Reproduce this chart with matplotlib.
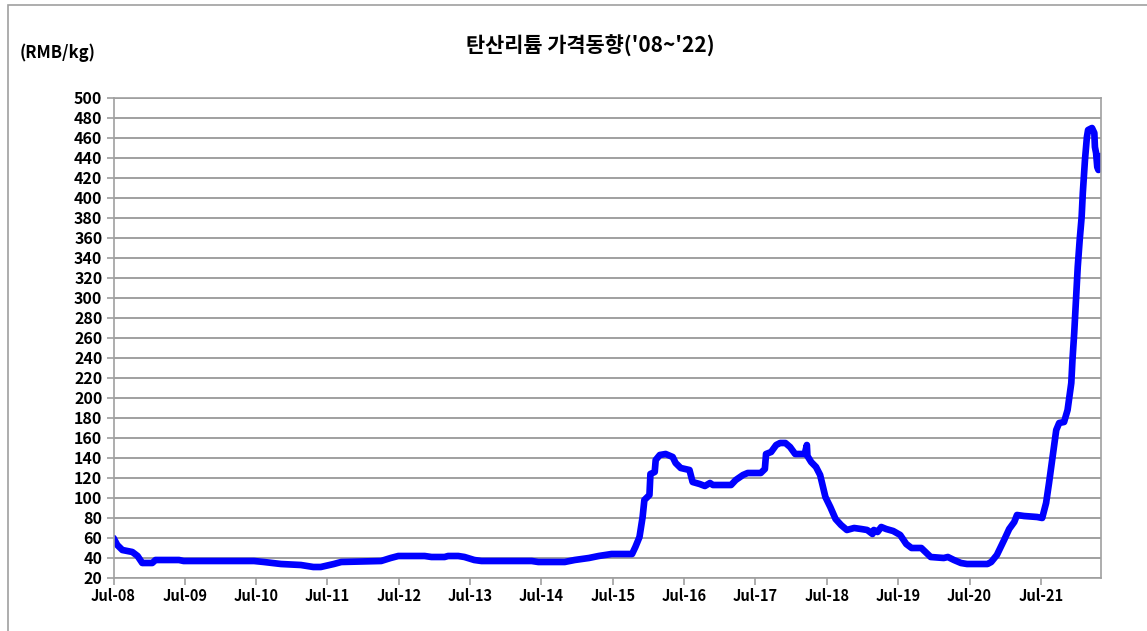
import pandas as pd
import numpy as np
import matplotlib
matplotlib.use("Agg")
import matplotlib.pyplot as plt
import matplotlib.dates as mdates
from matplotlib.patches import Rectangle

plt.rcParams['font.family'] = ['Noto Sans CJK KR', 'DejaVu Sans']

# 탄산리튬 가격 (RMB/kg) - 그림에서 읽은 값
dates = ["2008-07-01", "2008-07-20", "2008-08-15", "2008-10-05", "2008-11-01", "2008-11-25",
         "2009-01-15", "2009-02-01", "2009-06-01", "2009-06-25", "2010-06-20", "2010-08-10",
         "2010-11-05", "2011-02-15", "2011-04-20", "2011-05-28", "2011-08-03", "2011-09-10",
         "2012-04-01", "2012-05-20", "2012-06-28", "2012-11-10", "2012-12-15", "2013-02-20",
         "2013-03-10", "2013-05-01", "2013-06-02", "2013-07-22", "2013-08-28", "2014-05-12",
         "2014-06-15", "2014-10-28", "2014-12-18", "2015-03-01", "2015-04-20", "2015-06-25",
         "2015-10-08", "2015-10-25", "2015-11-15", "2015-12-01", "2015-12-10", "2016-01-05",
         "2016-01-10", "2016-02-01", "2016-02-06", "2016-02-27", "2016-03-28", "2016-05-03",
         "2016-05-18", "2016-06-13", "2016-07-28", "2016-08-13", "2016-09-18", "2016-10-15",
         "2016-11-10", "2016-11-25", "2017-02-26", "2017-03-22", "2017-04-28", "2017-05-22",
         "2017-07-28", "2017-08-18", "2017-08-24", "2017-09-19", "2017-10-15", "2017-11-04",
         "2017-12-01", "2017-12-25", "2018-01-20", "2018-03-10", "2018-03-21", "2018-03-24",
         "2018-04-12", "2018-05-07", "2018-05-28", "2018-06-24", "2018-07-19", "2018-08-15",
         "2018-09-12", "2018-10-12", "2018-11-18", "2018-12-24", "2019-01-24", "2019-02-20",
         "2019-02-27", "2019-03-18", "2019-04-06", "2019-05-01", "2019-06-06", "2019-07-12",
         "2019-08-12", "2019-09-08", "2019-10-28", "2019-11-18", "2019-12-15", "2020-02-20",
         "2020-03-12", "2020-04-12", "2020-05-18", "2020-06-18", "2020-10-01", "2020-10-20",
         "2020-11-18", "2020-12-25", "2021-01-20", "2021-02-15", "2021-03-01", "2021-04-06",
         "2021-06-12", "2021-07-08", "2021-07-28", "2021-08-12", "2021-08-28", "2021-09-18",
         "2021-10-03", "2021-10-28", "2021-11-15", "2021-12-04", "2021-12-10", "2021-12-19",
         "2021-12-28", "2022-01-06", "2022-01-16", "2022-01-26", "2022-02-01", "2022-02-12",
         "2022-02-22", "2022-02-28", "2022-03-20", "2022-04-01", "2022-04-04", "2022-04-10",
         "2022-04-16", "2022-04-22", "2022-05-04"]
prices = [60, 53, 48, 46, 42, 35,
          35, 38, 38, 37, 37, 36,
          34, 33, 31, 31, 34, 36,
          37, 40, 42, 42, 41, 41,
          42, 42, 41, 38, 37, 37,
          36, 36, 38, 40, 42, 44,
          44, 51, 61, 81, 98, 103,
          124, 126, 138, 143, 144, 141,
          135, 130, 128, 116, 114, 112,
          115, 113, 113, 118, 123, 125,
          125, 129, 144, 146, 153, 155,
          155, 151, 144, 144, 153, 142,
          136, 131, 123, 101, 91, 79,
          73, 68, 70, 69, 68, 64,
          68, 66, 71, 69, 67, 63,
          54, 50, 50, 46, 41, 40,
          41, 38, 35, 34, 34, 36,
          43, 58, 69, 76, 83, 82,
          81, 80, 95, 115, 138, 168,
          175, 176, 188, 215, 238, 265,
          298, 331, 358, 381, 405, 438,
          461, 468, 470, 465, 451, 445,
          431, 428, 442]

x = pd.to_datetime(dates)

fig = plt.figure(figsize=(11.47, 6.31), dpi=100)
ax = fig.add_axes([0.099, 0.084, 0.8607, 0.7607])

ax.plot(x, prices, color='#0000ff', lw=4.8, solid_joinstyle='round', solid_capstyle='round')

ax.set_ylim(20, 500)
ax.set_yticks(np.arange(20, 501, 20))
ax.set_xlim(pd.Timestamp("2008-07-01"), pd.Timestamp("2022-05-04"))
ax.set_xticks(pd.date_range("2008-07-01", "2021-07-01", freq="12MS"))
ax.xaxis.set_major_formatter(mdates.DateFormatter("%b-%y"))

ax.yaxis.grid(True, color='#a0a0a0', lw=1.4)
ax.set_axisbelow(True)
for s in ax.spines.values():
    s.set_color('#a0a0a0')
    s.set_linewidth(1.2)
ax.tick_params(axis='both', color='#a0a0a0', length=5, width=1.2, direction='out')
ax.tick_params(axis='y', labelsize=11.5, pad=3)
ax.tick_params(axis='x', labelsize=10.5, pad=2)
for lbl in ax.get_yticklabels() + ax.get_xticklabels():
    lbl.set_fontweight('bold')

fig.text(590 / 1147, 1 - 46 / 631, "탄산리튬 가격동향('08~'22)", ha='center', va='center',
         fontsize=15, fontweight='bold')
fig.text(20 / 1147, 1 - 53 / 631, "(RMB/kg)", ha='left', va='center', fontsize=12, fontweight='bold')

fig.patches.append(Rectangle((8 / 1147, -0.1), 1.2, 1 - 5 / 631 + 0.1, transform=fig.transFigure,
                             fill=False, edgecolor='#a0a0a0', lw=1.2))

fig.savefig("out.png", dpi=100)
